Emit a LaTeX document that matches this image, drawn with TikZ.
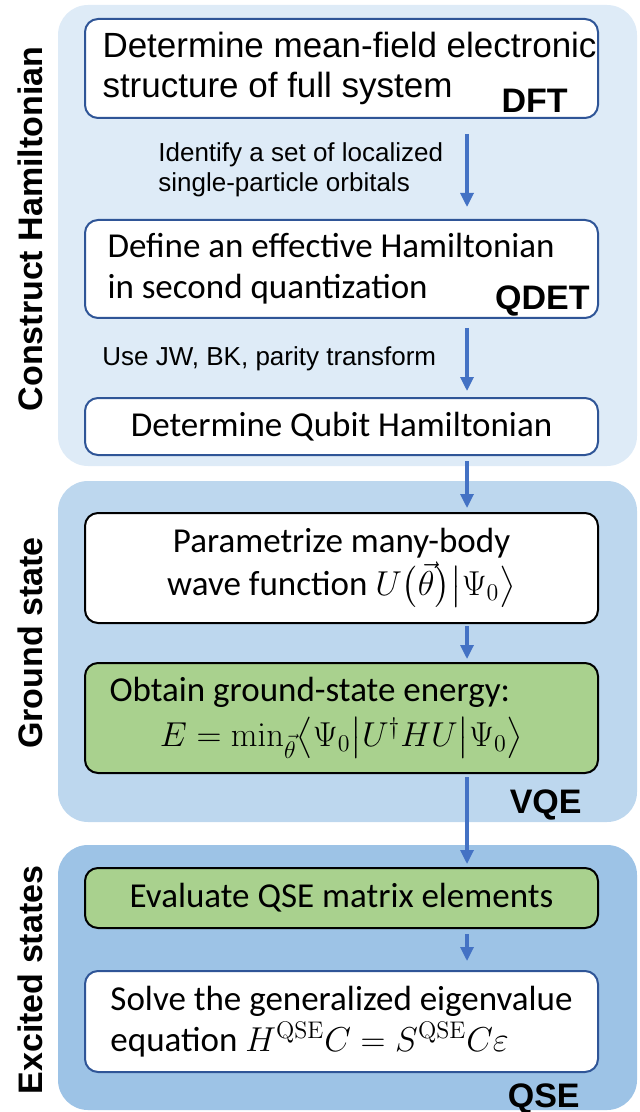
\documentclass[tikz,border=0pt]{standalone}
\usepackage{amsmath}
\usepackage[no-math]{fontspec}
\setmainfont{Carlito}
\newfontfamily\arialfont{Liberation Sans}
\usepackage{xcolor}
\usepackage{tikz}
\usetikzlibrary{arrows.meta,positioning}
\definecolor{PanelA}{RGB}{222,235,247}
\definecolor{PanelB}{RGB}{189,215,238}
\definecolor{PanelC}{RGB}{157,195,230}
\definecolor{EdgeBlue}{RGB}{47,85,151}
\definecolor{BoxGreen}{RGB}{169,209,142}
\definecolor{FlowBlue}{RGB}{68,114,196}
\tikzset{%Global config
	>={Triangle[width=6.5pt,length=7pt]},
	%Styles
	Panel/.style={
		rounded corners=15pt,
	},
	Box/.style={
		draw=EdgeBlue,
		fill=white,
		line width=1pt,
		rounded corners=6.5pt,
		minimum width=256.5pt,
		font=\fontsize{17.5}{20.5}\selectfont,
	},
	KBox/.style={Box, draw=black},
	GBox/.style={KBox, fill=BoxGreen},
	Flow/.style={
		->,
		draw=FlowBlue,
		line width=1.6pt,
	},
	Note/.style={
		font=\arialfont\fontsize{13}{15}\selectfont,
		align=left,
		inner sep=0pt,
	},
	Tag/.style={
		font=\arialfont\bfseries\fontsize{17}{20}\selectfont,
		anchor=base east,
		inner sep=0pt,
	},
	Side/.style={
		font=\arialfont\bfseries\fontsize{17}{20}\selectfont,
		rotate=90,
	},
}

\begin{document}
\begin{tikzpicture}[x=0.5pt, y=-0.5pt]
	\useasboundingbox (0,0) rectangle (640,1112);
	% stage panels
	\fill[Panel, PanelA] (58,5) rectangle (637,466);
	\fill[Panel, PanelB] (58,481) rectangle (637,822);
	\fill[Panel, PanelC] (58,845) rectangle (637,1110);

	\node[Side] (hamil) at (30,229) {Construct Hamiltonian};
	\node[Side] (ground) at (30,643) {Ground state};
	\node[Side] (excited) at (30,980) {Excited states};

	% steps
	\node[Box, minimum height=49.5pt, text width=239pt, align=flush left, font=\arialfont\fontsize{17.5}{20}\selectfont] (dft) at (341.5,68.5)
		{\mbox{Determine mean-field electronic}\\structure of full system};
	\node[Box, minimum height=49pt, text width=234pt, align=flush left] (qdet) at (341.5,269)
		{Define an effective Hamiltonian\\in second quantization};
	\node[Box, minimum height=28.5pt] (qubit) at (341.5,426.5) {Determine Qubit Hamiltonian};
	\node[KBox, minimum height=55pt, align=center] (param) at (341.5,568)
		{Parametrize many-body\\[1pt]wave function $U\bigl(\vec{\theta}\bigr)\big|\Psi_0\big\rangle$};
	\node[GBox, minimum height=55pt, text width=232pt, align=flush left] (obtain) at (341.5,718)
		{Obtain ground-state energy:\\[2pt]\hspace*{\fill}$E=\min_{\vec{\theta}}\bigl\langle\Psi_0\big|U^{\dagger}HU\big|\Psi_0\bigr\rangle$\hspace*{\fill}\mbox{}};
	\node[GBox, minimum height=30pt] (eval) at (341.5,898) {Evaluate QSE matrix elements};
	\node[Box, minimum height=50.5pt, align=left] (solve) at (341.5,1021.5)
		{Solve the generalized eigenvalue\\equation $H^{\mathrm{QSE}}C=S^{\mathrm{QSE}}C\varepsilon$};

	% method tags
	\node[Tag] (dft-tag) at (568,113) {DFT};
	\node[Tag] (qdet-tag) at (590,310) {QDET};
	\node[Tag] (vqe-tag) at (582,813) {VQE};
	\node[Tag] (qse-tag) at (580,1107) {QSE};

	% notes on the arrows
	\node[Note, anchor=west] (orbitals) at (158,170) {Identify a set of localized\\single-particle orbitals};
	\node[Note, anchor=base west] (transform) at (102,365) {Use JW, BK, parity transform};

	% arrows
	\coordinate (col) at (467,0);
	\foreach \a/\b/\s/\e in {dft/qdet/7.5/6, qdet/qubit/4.5/3, qubit/param/2.5/2,
		param/obtain/1/1.5, obtain/eval/1.5/1.5, eval/solve/2.5/4.5}
		\draw[Flow, shorten <=\s pt, shorten >=\e pt] (\a.south -| col) -- (\b.north -| col);
\end{tikzpicture}
\end{document}
